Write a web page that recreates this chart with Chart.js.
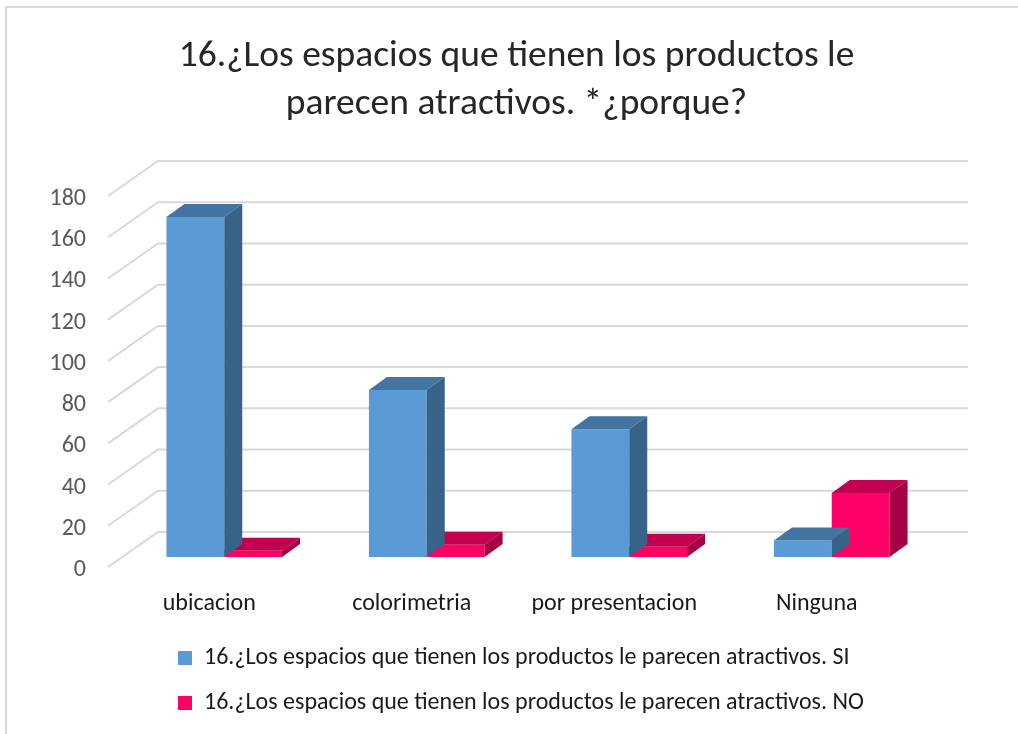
<!DOCTYPE html>
<html>
<head>
<meta charset="utf-8">
<script src="https://cdn.jsdelivr.net/npm/chart.js@4/dist/chart.umd.min.js"></script>
<style>
  html, body { margin: 0; padding: 0; background: #fff; }
  #wrap { width: 1018px; height: 734px; position: relative; }
</style>
</head>
<body>
<div id="wrap"><canvas id="grafico"></canvas></div>
<script>
// Datos
const CATEGORIAS = ['ubicacion', 'colorimetria', 'por presentacion', 'Ninguna'];
const SERIE_SI = [165, 81, 62, 8];
const SERIE_NO = [3, 6, 5, 31];
const ETIQUETA_SI = '16.¿Los espacios que tienen los productos le parecen atractivos. SI';
const ETIQUETA_NO = '16.¿Los espacios que tienen los productos le parecen atractivos. NO';
const TITULO = ['16.¿Los espacios que tienen los productos le', 'parecen atractivos. *¿porque?'];
const EJE_Y_MAX = 180;
const EJE_Y_PASO = 20;

const FUENTE = "Carlito, Calibri, 'Open Sans', sans-serif";

// caras del efecto 3D: [frente, arriba, costado]
const CARAS = [
  ['#5b9bd5', '#4374a2', '#386389'],
  ['#ff0066', '#c2004f', '#a60044'],
];

// profundidad de las barras y de las paredes (en px)
const PROF_BARRA = { dx: 18, dy: -13 };
const PARED_FONDO = { dx: 35, dy: -25 };
const PARED_FRENTE = { dx: -15, dy: 10 };
const COLOR_GRILLA = '#d9d9d9';

// Fondo blanco + borde del gráfico (sólo arriba e izquierda quedan en el recorte)
const fondoPlugin = {
  id: 'fondo',
  beforeDraw(chart) {
    const { ctx, width, height } = chart;
    ctx.save();
    ctx.fillStyle = '#fff';
    ctx.fillRect(0, 0, width, height);
    ctx.strokeStyle = COLOR_GRILLA;
    ctx.lineWidth = 2;
    ctx.beginPath();
    ctx.moveTo(6, height);
    ctx.lineTo(6, 7);
    ctx.lineTo(width, 7);
    ctx.stroke();
    ctx.restore();
  },
};

// Paredes: líneas de grilla en el fondo y diagonales en la pared lateral
const paredesPlugin = {
  id: 'paredes',
  beforeDatasetsDraw(chart) {
    const { ctx, chartArea, scales } = chart;
    const y = scales.y;
    ctx.save();
    ctx.strokeStyle = COLOR_GRILLA;
    ctx.lineWidth = 2;
    for (const t of y.ticks) {
      const py = y.getPixelForValue(t.value);
      ctx.beginPath();
      ctx.moveTo(chartArea.left + PARED_FRENTE.dx, py + PARED_FRENTE.dy);
      ctx.lineTo(chartArea.left + PARED_FONDO.dx, py + PARED_FONDO.dy);
      ctx.lineTo(chartArea.right + PARED_FONDO.dx, py + PARED_FONDO.dy);
      ctx.stroke();
    }
    ctx.restore();
  },
};

// Cara superior y lateral de cada barra, dibujadas justo después de su serie
const barras3dPlugin = {
  id: 'barras3d',
  afterDatasetDraw(chart, args) {
    const { ctx } = chart;
    const caras = CARAS[args.index];
    const { dx, dy } = PROF_BARRA;
    ctx.save();
    for (const el of args.meta.data) {
      const { x, y, base, width } = el.getProps(['x', 'y', 'base', 'width'], true);
      const l = x - width / 2;
      const r = x + width / 2;
      // arriba
      ctx.fillStyle = caras[1];
      ctx.beginPath();
      ctx.moveTo(l, y);
      ctx.lineTo(r, y);
      ctx.lineTo(r + dx, y + dy);
      ctx.lineTo(l + dx, y + dy);
      ctx.closePath();
      ctx.fill();
      // costado
      ctx.fillStyle = caras[2];
      ctx.beginPath();
      ctx.moveTo(r, y);
      ctx.lineTo(r + dx, y + dy);
      ctx.lineTo(r + dx, base + dy);
      ctx.lineTo(r, base);
      ctx.closePath();
      ctx.fill();
    }
    ctx.restore();
  },
};

// Título centrado en todo el ancho y leyenda alineada a la izquierda (como en Excel)
const posicionesPlugin = {
  id: 'posiciones',
  afterLayout(chart) {
    chart.titleBlock.left = 15;
    chart.titleBlock.right = chart.width;
    chart.legend.left = 157;
  },
};

new Chart(document.getElementById('grafico'), {
  type: 'bar',
  data: {
    labels: CATEGORIAS,
    datasets: [
      { label: ETIQUETA_SI, data: SERIE_SI, backgroundColor: CARAS[0][0], borderWidth: 0 },
      { label: ETIQUETA_NO, data: SERIE_NO, backgroundColor: CARAS[1][0], borderWidth: 0 },
    ],
  },
  options: {
    responsive: true,
    maintainAspectRatio: false,
    animation: false,
    categoryPercentage: 0.571,
    barPercentage: 1,
    layout: { padding: { top: 0, left: 0, right: 85, bottom: 9 } },
    plugins: {
      title: {
        display: true,
        text: TITULO,
        color: '#262626',
        font: { family: FUENTE, size: 37.5, weight: 'normal', lineHeight: 1.28 },
        padding: { top: 33, bottom: 57 },
      },
      legend: {
        position: 'bottom',
        align: 'start',
        labels: {
          boxWidth: 14,
          boxHeight: 14,
          padding: 21,
          color: '#1a1a1a',
          font: { family: FUENTE, size: 24 },
        },
      },
      tooltip: { enabled: false },
    },
    scales: {
      x: {
        grid: { display: false, drawTicks: false },
        border: { display: false },
        ticks: { color: '#1a1a1a', font: { family: FUENTE, size: 24 }, padding: 33, labelOffset: -15, maxRotation: 0 },
        afterFit(scale) { scale.height = 68; },
      },
      y: {
        min: 0,
        max: EJE_Y_MAX,
        grid: { display: false, drawTicks: false },
        border: { display: false },
        ticks: { stepSize: EJE_Y_PASO, color: '#595959', font: { family: FUENTE, size: 24 }, padding: 37, labelOffset: 13 },
        afterFit(scale) { scale.width = 123; },
      },
    },
  },
  plugins: [fondoPlugin, paredesPlugin, barras3dPlugin, posicionesPlugin],
});
</script>
</body>
</html>
